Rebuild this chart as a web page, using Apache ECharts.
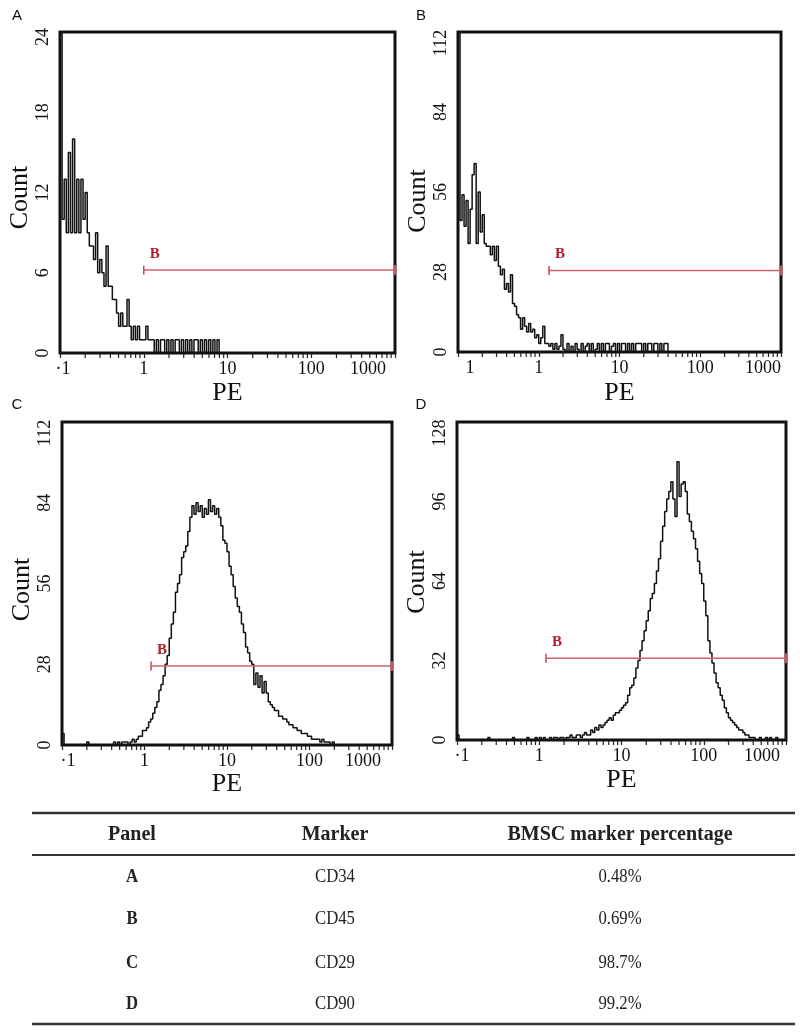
<!DOCTYPE html>
<html><head><meta charset="utf-8">
<script src="https://cdn.jsdelivr.net/npm/echarts@6/dist/echarts.min.js"></script>
<style>html,body{margin:0;padding:0;background:#fff}#c{width:800px;height:1035px}</style>
</head><body><div id="c"></div>
<script>
// ---- channel scale: each count is one histogram channel, 0.025 decade wide, starting at PE = 0.1
const binStep = 0.025;
const firstBinExp = -1;

// ---- histogram counts
const countsA = [24, 10,13,9,15,9,16,9,13,9, 13,10,12,9,8,8,7,9,6,7, 6,5,8,5,5,4,4,3,2,3,
  2,2,4,2,1,2,1,2,1,1, 1,2,1,1,1,0,1,0,1,1, 0,1,0,1,0,1,1,0,1,0, 1,0,1,0,1,1,0,1,0,1, 0,1,0,1,0,1,0];
const countsB = [112, 46,55,44,53,38,50,62,66,38, 56,42,48,38,37,37,34,37,32,37, 30,27,29,22,24,21,27,17,16,13,
  12,8,12,9,7,10,7,8,5,6, 3,5,9,3,3,2,3,1,3,1, 2,6,1,0,
  3,0,2,0,3,1,0,3,0,2, 3,0,3,0,1,3,0,3,0,3, 3,0,2,3,0,3,0,3,3,0, 3,0,3,0,3,3,3,0,3,0, 3,3,0,3,3,0,3,0,3,3, 0];
const countsC = [4, 0,0,0,0,0,0,0,0,0,0,0, 1, 0,0,0,0,0,0,0,0,0,0,0,0,
  1,0,1,0,1,1,1,0,1,
  2,1,2,3,3,5,5,6,8,9,11,13,15,19,21,24,
  28,31,37,42,46,53,56,59,65,67,69,74,79,
  83,80,84,81,83,79,82,80,85,81,83,80,82,79,
  76,71,70,67,62,59,55,51,48,46,42,39,34,32,29,28,
  21,25,20,24,18,22,18,15,14,13,12,12,10,10,9,9,8,7,
  7,6,6,5,5,4,4,4,3,3,2,2,2,2,1,2,1,1,1,0,1,0];
const countsD = [2, 0,0,0,0,0,0,0,0,0,0, 0,0,0,0,1,0,0,0,0,0, 0,0,0,0,0,0,1,0,0,
  0,0,0,0,1,0,0,0,1,0, 1,0,1,0,0,1,0,1,1,0,
  1,1,0,1,1,2,1,1,2,2, 1,2,3,2,2,4,3,5,4,6, 5,6,7,8,9,8,10,11,11,12,
  13,14,15,18,21,22,25,29,32,36, 40,44,48,52,57,59,63,68,73,80,
  86,92,97,100,104,97,90,112,98,103, 104,100,91,88,84,81,77,72,67,63,
  56,50,40,35,31,27,23,21,18,16, 13,11,9,8,7,6,5,4,4,3, 2,2,1,1,1,0,
  0,1,0,0,1,0,1,0,0,1,0,0];

// ---- axes
const xTickLabelsA = ['·1', '1', '10', '100', '1000'];
const xTickLabelsB = ['1', '1', '10', '100', '1000'];
const xTickLabelsC = ['·1', '1', '10', '100', '1000'];
const xTickLabelsD = ['·1', '1', '10', '100', '1000'];
const xMin = 0.1, xMax = 1000;
const yMaxes = [24, 112, 112, 128];
const yIntervals = [6, 28, 28, 32];
const minorTicks = [0.2,0.3,0.4,0.5,0.6,0.7,0.8,0.9, 2,3,4,5,6,7,8,9, 20,30,40,50,60,70,80,90, 200,300,400,500,600,700,800,900];

// ---- gate "B"
const gateName = 'B';
const gateStart = [1, 1.34, 1.2, 1.21];
const gateEnd = [1000, 1000, 1000, 1000];
const gateLevel = [6.2, 28.5, 27.4, 32.9];

// ---- table
const tableHeaders = ['Panel', 'Marker', 'BMSC marker percentage'];
const tablePanels = ['A', 'B', 'C', 'D'];
const tableMarkers = ['CD34', 'CD45', 'CD29', 'CD90'];
const tablePercents = ['0.48%', '0.69%', '98.7%', '99.2%'];

// ================= layout / styling =================
const SERIF = '"Liberation Serif","Times New Roman",serif';
const SANS = '"Liberation Sans",Arial,sans-serif';
const grids = [
  {left: 60, top: 32, width: 335, height: 321},
  {left: 458, top: 32, width: 323, height: 320},
  {left: 62, top: 422, width: 330, height: 323},
  {left: 457, top: 422, width: 329, height: 318}
];
const panelLetters = ['A', 'B', 'C', 'D'];
const letterPos = [[17, 16], [421, 16], [17, 405], [421, 405]];
const firstShift = [3, 12, 6, 5];
const lastShift = [27, 18, 29, 24];
const topShift = [5, 11, 11, 11];
const countShift = [5, 9, 6, 1];
const countGap = [18, 19, 20, 19];
const peGap = [27, 28, 26, 27];
const allCounts = [countsA, countsB, countsC, countsD];
const allLabels = [xTickLabelsA, xTickLabelsB, xTickLabelsC, xTickLabelsD];

function histData(counts) {
  const d = counts.map((c, i) => [Math.pow(10, firstBinExp + i * binStep), c]);
  d.push([Math.pow(10, firstBinExp + counts.length * binStep), 0]);
  return d;
}

const option = {
  animation: false,
  backgroundColor: '#fff',
  grid: grids.map(g => Object.assign({show: true, borderColor: '#111', borderWidth: 3, backgroundColor: 'transparent'}, g)),
  xAxis: grids.map((g, k) => ({
    type: 'log', logBase: 10, gridIndex: k, min: xMin, max: xMax,
    name: 'PE', nameLocation: 'middle', nameGap: peGap[k],
    nameTextStyle: {fontFamily: SERIF, fontSize: 26, color: '#111'},
    axisLine: {show: false},
    axisTick: {show: true, length: 5, lineStyle: {color: '#222', width: 1.2}},
    splitLine: {show: false},
    axisLabel: {
      margin: 7, fontFamily: SERIF, fontSize: 18, color: '#111',
      formatter: v => {
        const idx = Math.round(Math.log10(v)) + 1;
        const t = allLabels[k][idx];
        if (idx === 0) return '{f|' + t + '}';
        if (idx === 4) return '{l|' + t + '}';
        return t;
      },
      rich: {
        f: {fontFamily: SERIF, fontSize: 18, color: '#111', padding: [0, 0, 0, 2 * firstShift[k]]},
        l: {fontFamily: SERIF, fontSize: 18, color: '#111', padding: [0, 2 * lastShift[k], 0, 0]}
      }
    }
  })),
  yAxis: grids.map((g, k) => ({
    type: 'value', gridIndex: k, min: 0, max: yMaxes[k], interval: yIntervals[k],
    name: 'Count', nameLocation: 'middle', nameGap: countGap[k], nameRotate: 90,
    nameTextStyle: {fontFamily: SERIF, fontSize: 26, color: '#111', padding: [0, 2 * countShift[k], 0, 0]},
    axisLine: {show: false}, axisTick: {show: false}, splitLine: {show: false},
    axisLabel: {
      rotate: 90, margin: 8, fontFamily: SERIF, fontSize: 18, color: '#111',
      formatter: v => v === yMaxes[k] ? '{t|' + v + '}' : String(v),
      rich: {t: {fontFamily: SERIF, fontSize: 18, color: '#111', padding: [0, 2 * topShift[k], 0, 0]}}
    }
  })),
  series: [],
  graphic: []
};

grids.forEach((g, k) => {
  option.series.push({
    type: 'line', xAxisIndex: k, yAxisIndex: k, step: 'end', symbol: 'none', clip: true,
    lineStyle: {color: '#111', width: 1.5}, z: 3,
    data: histData(allCounts[k])
  });
  option.series.push({
    type: 'custom', xAxisIndex: k, yAxisIndex: k, clip: false, silent: true,
    data: minorTicks.map(v => [v, 0]),
    encode: {x: 0, y: 1},
    renderItem: (params, api) => {
      const p = api.coord([api.value(0), 0]);
      return {type: 'line', shape: {x1: p[0], y1: p[1] + 1, x2: p[0], y2: p[1] + 5},
        style: {stroke: '#222', lineWidth: 1.2}};
    }
  });
  option.series.push({
    type: 'line', xAxisIndex: k, yAxisIndex: k, clip: false, z: 4,
    symbol: 'rect', symbolSize: [1.6, 9],
    itemStyle: {color: '#c9545c'},
    lineStyle: {color: '#d0606a', width: 1.5},
    data: [
      {value: [gateStart[k], gateLevel[k]],
       label: {show: true, formatter: gateName, position: 'top', distance: 4, offset: [11, 0],
         fontFamily: SERIF, fontWeight: 'bold', fontSize: 15, color: '#b3202c'}},
      {value: [gateEnd[k], gateLevel[k]], symbolSize: [2.5, 10]}
    ]
  });
  option.graphic.push({type: 'text', x: letterPos[k][0], y: letterPos[k][1],
    style: {text: panelLetters[k], font: '15px ' + SANS, fill: '#111', textAlign: 'center', textVerticalAlign: 'middle'}});
});

// table
const tableLeft = 32, tableRight = 795;
const ruleY = [813, 855, 1024];
const ruleW = [2.5, 2, 2.5];
const colX = [132, 335, 620];
const headerY = 835;
const rowY = [877, 919, 963, 1004];
ruleY.forEach((y, i) => option.graphic.push({type: 'line', shape: {x1: tableLeft, y1: y, x2: tableRight, y2: y},
  style: {stroke: '#333', lineWidth: ruleW[i]}}));
tableHeaders.forEach((h, j) => option.graphic.push({type: 'text', x: colX[j], y: headerY,
  style: {text: h, font: 'bold 20px ' + SERIF, fill: '#222', textAlign: 'center', textVerticalAlign: 'middle'}}));
rowY.forEach((y, r) => {
  const cells = [tablePanels[r], tableMarkers[r], tablePercents[r]];
  cells.forEach((t, j) => option.graphic.push({type: 'text', x: colX[j], y: y, scaleX: 0.88,
    style: {text: t, font: (j === 0 ? 'bold ' : '') + '19px ' + SERIF, fill: '#222', textAlign: 'center', textVerticalAlign: 'middle'}}));
});

const chart = echarts.init(document.getElementById('c'), null, {renderer: 'canvas'});
chart.setOption(option);
</script>
</body></html>
